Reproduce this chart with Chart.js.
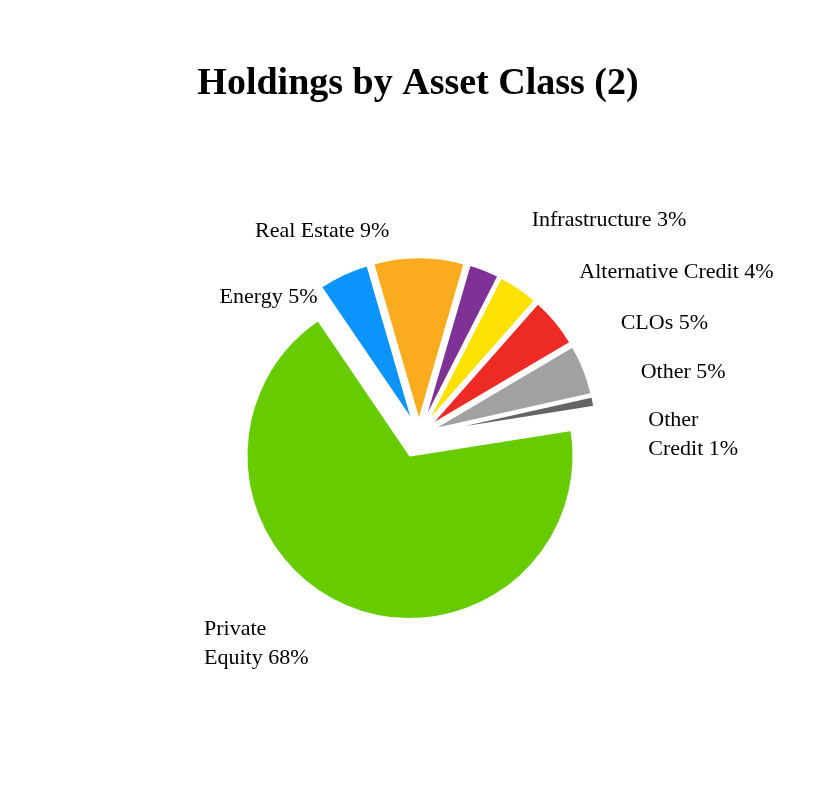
<!DOCTYPE html>
<html>
<head>
<meta charset="utf-8">
<script src="https://cdn.jsdelivr.net/npm/chart.js@4.4.1/dist/chart.umd.min.js"></script>
<style>
  html, body { margin: 0; padding: 0; background: #ffffff; }
  #wrap { width: 836px; height: 802px; position: relative; }
</style>
</head>
<body>
<div id="wrap"><canvas id="chart"></canvas></div>
<script>
// ---------- data ----------
const titleText = 'Holdings by Asset Class (2)';
const categories = ['Energy', 'Real Estate', 'Infrastructure', 'Alternative Credit', 'CLOs', 'Other', 'Other Credit', 'Private Equity'];
const values = [5, 9, 3, 4, 5, 5, 1, 68];
const sliceColors = ['#0A94FC', '#FAAB1E', '#7E3296', '#FDE100', '#EE2A25', '#A1A1A1', '#646464', '#66CC00'];
const exploded = [true, true, true, true, true, true, true, false];
// labels: line breaks (first space -> newline) for some slices
const wrapLabel = [false, false, false, false, false, false, true, true];

// ---------- layout / style ----------
const FONT = '"Liberation Serif", "Times New Roman", Times, serif';
const PIE_RADIUS = 163.5;
const GROUP_SHIFT = 22.5;     // common shift of the exploded group
const SLICE_EXPLODE = 14;     // extra shift of each exploded slice along its bisector
const LABEL_FONT_SIZE = 22;
const LABEL_LINE_HEIGHT = 28.5;
// label anchor offsets (text baseline) relative to the pie centre
const labelLayout = [
  { dx: -92.5, dy: -152.2, align: 'right' },
  { dx: -155,  dy: -218.2, align: 'left' },
  { dx: 121.7, dy: -229.5, align: 'left' },
  { dx: 169.3, dy: -177.2, align: 'left' },
  { dx: 210.7, dy: -126.2, align: 'left' },
  { dx: 230.7, dy: -77.2,  align: 'left' },
  { dx: 238.3, dy: -29.5,  align: 'left' },
  { dx: -206,  dy: 179.5,  align: 'left' }
];

const total = values.reduce((a, b) => a + b, 0);
// Real Estate slice centred on the top of the pie
const startRotation = -((values[0] + values[1] / 2) / total) * 360;

const explodePlugin = {
  id: 'explodeGroup',
  afterDatasetsUpdate(chart) {
    const arcs = chart.getDatasetMeta(0).data;
    const idx = arcs.map((a, i) => i).filter(i => exploded[i]);
    if (!idx.length) return;
    const start = Math.min(...idx.map(i => arcs[i].startAngle));
    const end = Math.max(...idx.map(i => arcs[i].endAngle));
    const mid = (start + end) / 2;
    const gx = Math.cos(mid) * GROUP_SHIFT;
    const gy = Math.sin(mid) * GROUP_SHIFT;
    idx.forEach(i => {
      const a = arcs[i];
      const m = (a.startAngle + a.endAngle) / 2;
      a.x += gx + Math.cos(m) * SLICE_EXPLODE;
      a.y += gy + Math.sin(m) * SLICE_EXPLODE;
    });
  }
};

const textPlugin = {
  id: 'texts',
  afterDraw(chart) {
    const ctx = chart.ctx;
    const arcs = chart.getDatasetMeta(0).data;
    const base = arcs[arcs.length - 1];
    const cx = base.x, cy = base.y;
    ctx.save();
    ctx.fillStyle = '#000000';
    // title
    ctx.font = 'bold 38px ' + FONT;
    ctx.textAlign = 'center';
    ctx.textBaseline = 'alphabetic';
    ctx.fillText(titleText, 418, 94);
    // slice labels
    ctx.font = LABEL_FONT_SIZE + 'px ' + FONT;
    categories.forEach((cat, i) => {
      const txt = cat + ' ' + values[i] + '%';
      let lines = [txt];
      if (wrapLabel[i]) {
        const k = txt.indexOf(' ');
        lines = [txt.slice(0, k), txt.slice(k + 1)];
      }
      const L = labelLayout[i];
      ctx.textAlign = L.align;
      lines.forEach((ln, j) => {
        ctx.fillText(ln, cx + L.dx, cy + L.dy + j * LABEL_LINE_HEIGHT);
      });
    });
    ctx.restore();
  }
};

new Chart(document.getElementById('chart'), {
  type: 'pie',
  data: {
    labels: categories,
    datasets: [{
      data: values,
      backgroundColor: sliceColors,
      borderColor: '#ffffff',
      borderWidth: 2,
      radius: PIE_RADIUS
    }]
  },
  options: {
    responsive: true,
    maintainAspectRatio: false,
    animation: false,
    events: [],
    rotation: startRotation,
    layout: { padding: { left: 0, right: 16, top: 109, bottom: 0 } },
    plugins: {
      legend: { display: false },
      tooltip: { enabled: false },
      title: { display: false }
    }
  },
  plugins: [explodePlugin, textPlugin]
});
</script>
</body>
</html>
